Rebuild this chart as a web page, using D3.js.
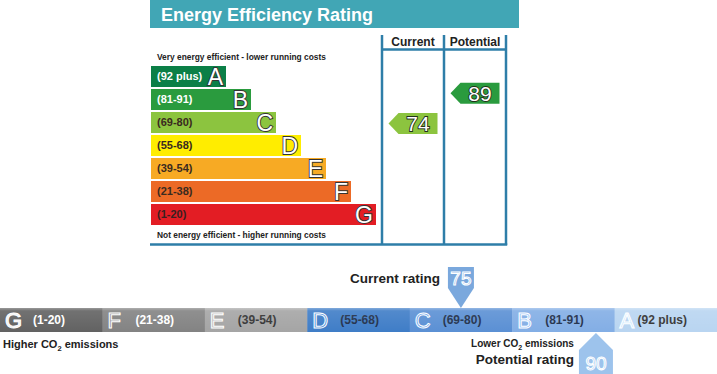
<!DOCTYPE html>
<html lang="en">
<head>
<meta charset="UTF-8">
<title>Energy Efficiency Rating</title>
<script src="https://d3js.org/d3.v7.min.js"></script>
<style>
  body { margin: 0; background: #fff; font-family: "Liberation Sans", Arial, sans-serif; }
  svg { display: block; }
</style>
</head>
<body>
<script>
// energy efficiency bands (top chart)
const bands = ["A", "B", "C", "D", "E", "F", "G"];
const bandRanges = ["(92 plus)", "(81-91)", "(69-80)", "(55-68)", "(39-54)", "(21-38)", "(1-20)"];
const bandMax = [100, 91, 80, 68, 54, 38, 20];
const eeColors = ["#0b7f47", "#2a9b3e", "#8cc43f", "#ffed00", "#f7aa24", "#ec6a26", "#e31d24"];
const eeLabelColors = ["#fff", "#fff", "#3a2a20", "#3a2a20", "#3a2a20", "#3a2a20", "#3a2020"];
const columns = ["Current", "Potential"];
const eeScores = [74, 89];

// CO2 bands (bottom chart)
const co2Bands = ["G", "F", "E", "D", "C", "B", "A"];
const co2Ranges = ["(1-20)", "(21-38)", "(39-54)", "(55-68)", "(69-80)", "(81-91)", "(92 plus)"];
const co2Edges = [1, 21, 39, 55, 69, 81, 92, 101];
const co2Colors = ["#626262", "#838383", "#a5a5a5", "#3f7dc7", "#5b90d4", "#83aee5", "#b9d5f1"];
const co2LabelColors = ["#fff", "#fff", "#333", "#1f2f4a", "#1f2f4a", "#1f2f4a", "#333"];
const co2Current = 75, co2Potential = 90;

const width = 717, height = 374;
const svg = d3.select("body").append("svg")
    .attr("width", width)
    .attr("height", height)
    .attr("viewBox", [0, 0, width, height]);

const defs = svg.append("defs");
const shine = defs.append("linearGradient")
    .attr("id", "shine").attr("x1", 0).attr("x2", 0).attr("y1", 0).attr("y2", 1);
shine.append("stop").attr("offset", "0%").attr("stop-color", "#fff").attr("stop-opacity", 0.35);
shine.append("stop").attr("offset", "12%").attr("stop-color", "#fff").attr("stop-opacity", 0.1);
shine.append("stop").attr("offset", "100%").attr("stop-color", "#fff").attr("stop-opacity", 0);

// ---------- top chart ----------
const frame = "#2e7ea8";
const eeG = svg.append("g");

eeG.append("rect")
    .attr("x", 150).attr("y", 0).attr("width", 369).attr("height", 28)
    .attr("fill", "#41a6b5");
eeG.append("text")
    .attr("x", 161).attr("y", 21)
    .attr("fill", "#fff").attr("font-weight", "bold").attr("font-size", 18)
    .text("Energy Efficiency Rating");

const yBand = d3.scaleBand().domain(bands).range([66, 225]).paddingInner(0.087);
const xEnd = d3.scaleLinear().domain([0, 6]).range([226, 376]);
const col = d3.scaleBand().domain(columns).range([382, 506]);

// score -> vertical centre of its arrow (band top = band max score)
const yScore = d3.scaleLinear()
    .domain(bandMax.concat([0]))
    .range(bands.map(b => yBand(b)).concat([yBand("G") + yBand.step()]));

// frame lines
eeG.append("g")
    .attr("stroke", frame).attr("stroke-width", 2.5)
  .selectAll("line")
  .data([382, 444, 506])
  .join("line")
    .attr("x1", d => d).attr("x2", d => d)
    .attr("y1", 35).attr("y2", 245);
eeG.append("line")
    .attr("x1", 382).attr("x2", 506).attr("y1", 49.5).attr("y2", 49.5)
    .attr("stroke", frame).attr("stroke-width", 2.5);
eeG.append("line")
    .attr("x1", 150).attr("x2", 507.2).attr("y1", 244.5).attr("y2", 244.5)
    .attr("stroke", frame).attr("stroke-width", 2.5);

eeG.selectAll(".colhead")
  .data(columns)
  .join("text")
    .attr("x", d => col(d) + col.bandwidth() / 2)
    .attr("y", 46)
    .attr("text-anchor", "middle")
    .attr("font-weight", "bold").attr("font-size", 12).attr("fill", "#222")
    .text(d => d);

eeG.append("text")
    .attr("x", 157).attr("y", 59.5)
    .attr("font-weight", "bold").attr("font-size", 8.4).attr("fill", "#222")
    .text("Very energy efficient - lower running costs");
eeG.append("text")
    .attr("x", 157).attr("y", 238)
    .attr("font-weight", "bold").attr("font-size", 8.4).attr("fill", "#222")
    .text("Not energy efficient - higher running costs");

const band = eeG.selectAll(".band")
  .data(bands)
  .join("g");

band.append("rect")
    .attr("x", 151)
    .attr("y", d => yBand(d))
    .attr("width", (d, i) => xEnd(i) - 151)
    .attr("height", yBand.bandwidth())
    .attr("fill", (d, i) => eeColors[i]);

band.append("text")
    .attr("x", 157)
    .attr("y", d => yBand(d) + yBand.bandwidth() / 2)
    .attr("dy", "0.36em")
    .attr("font-weight", "bold").attr("font-size", 11)
    .attr("fill", (d, i) => eeLabelColors[i])
    .text((d, i) => bandRanges[i]);

band.append("text")
    .attr("x", (d, i) => xEnd(i) - 3)
    .attr("y", d => yBand(d) + yBand.bandwidth() / 2)
    .attr("dy", "0.37em")
    .attr("text-anchor", "end")
    .attr("font-size", 23)
    .attr("fill", "#fff")
    .attr("stroke", "#333").attr("stroke-width", 1.8)
    .attr("paint-order", "stroke")
    .text(d => d);

// rating arrows
const arrowH = 21, arrowW = 49, notch = 10;
function bandOf(score) {
  return bands[bandMax.findIndex((m, i) => score <= m && score > (bandMax[i + 1] ?? 0))];
}
const arrows = eeG.selectAll(".arrow")
  .data(columns.map((c, i) => ({ col: c, score: eeScores[i] })))
  .join("g");

arrows.append("path")
    .attr("d", d => {
      const x0 = col(d.col) + 6.5, yc = yScore(d.score);
      return `M${x0},${yc} L${x0 + notch},${yc - arrowH / 2} L${x0 + arrowW},${yc - arrowH / 2}
              L${x0 + arrowW},${yc + arrowH / 2} L${x0 + notch},${yc + arrowH / 2} Z`;
    })
    .attr("fill", d => eeColors[bands.indexOf(bandOf(d.score))]);

arrows.append("text")
    .attr("x", d => col(d.col) + 6.5 + (arrowW + notch) / 2)
    .attr("y", d => yScore(d.score))
    .attr("dy", "0.37em")
    .attr("text-anchor", "middle")
    .attr("font-size", 21)
    .attr("fill", "#fff")
    .attr("stroke", "#23301a").attr("stroke-width", 1.8)
    .attr("paint-order", "stroke")
    .text(d => d.score);

// ---------- bottom chart ----------
const barY = 308, barH = 24;
const xBand = d3.scaleBand().domain(co2Bands).range([0, width]);
const xScore = d3.scaleLinear()
    .domain(co2Edges)
    .range(co2Bands.map(b => xBand(b)).concat([width]));

const co2G = svg.append("g");
const seg = co2G.selectAll(".seg")
  .data(co2Bands)
  .join("g");

seg.append("rect")
    .attr("x", d => xBand(d))
    .attr("y", barY)
    .attr("width", xBand.bandwidth() + 0.5)
    .attr("height", barH)
    .attr("fill", (d, i) => co2Colors[i]);

seg.append("text")
    .attr("x", d => xBand(d) + 5)
    .attr("y", barY + barH / 2)
    .attr("dy", "0.37em")
    .attr("font-size", 22)
    .attr("fill", (d, i) => d3.color(co2Colors[i]).brighter(i === 0 ? 2.5 : 0.25))
    .attr("stroke", "#fff").attr("stroke-width", 1)
    .text(d => d);

seg.append("text")
    .attr("x", d => xBand(d) + (d === "A" ? 23 : 33))
    .attr("y", barY + barH / 2)
    .attr("dy", "0.36em")
    .attr("font-weight", "bold").attr("font-size", 12)
    .attr("fill", (d, i) => co2LabelColors[i])
    .text((d, i) => co2Ranges[i]);

co2G.append("rect")
    .attr("x", 0).attr("y", barY).attr("width", width).attr("height", barH)
    .attr("fill", "url(#shine)");

function co2Text(g, x, y, size, anchor) {
  return g.append("text")
      .attr("x", x).attr("y", y)
      .attr("text-anchor", anchor)
      .attr("font-weight", "bold").attr("font-size", size).attr("fill", "#222");
}

const hi = co2Text(co2G, 3, 348, 11, "start");
hi.append("tspan").text("Higher CO");
hi.append("tspan").attr("font-size", 7.5).attr("dy", 3).text("2");
hi.append("tspan").attr("dy", -3).text(" emissions");

// current rating pointer (points down to the bar)
const xc = xScore(co2Current);
co2G.append("path")
    .attr("d", `M${xc - 13},267 L${xc + 13},267 L${xc + 13},288 L${xc},${barY} L${xc - 13},288 Z`)
    .attr("fill", "#7aa8dd");
co2G.append("text")
    .attr("x", xc).attr("y", 285)
    .attr("text-anchor", "middle")
    .attr("font-size", 19)
    .attr("fill", "#8db6e6")
    .attr("stroke", "#fff").attr("stroke-width", 1)
    .text(co2Current);
co2Text(co2G, xc - 21, 283, 13.5, "end").text("Current rating");

// potential rating pointer (points up to the bar)
const xp = xScore(co2Potential);
co2G.append("path")
    .attr("d", `M${xp},${barY + barH + 1} L${xp + 17},350 L${xp + 17},${height + 2} L${xp - 17},${height + 2} L${xp - 17},350 Z`)
    .attr("fill", "#9dc3ec");
co2G.append("text")
    .attr("x", xp).attr("y", 370)
    .attr("text-anchor", "middle")
    .attr("font-size", 19)
    .attr("fill", "#a9cbef")
    .attr("stroke", "#fff").attr("stroke-width", 1)
    .text(co2Potential);
co2Text(co2G, xp - 22, 364, 13.5, "end").text("Potential rating");

const lo = co2Text(co2G, xp - 22, 347, 10, "end");
lo.append("tspan").text("Lower CO");
lo.append("tspan").attr("font-size", 7).attr("dy", 3).text("2");
lo.append("tspan").attr("dy", -3).text(" emissions");
</script>
</body>
</html>
